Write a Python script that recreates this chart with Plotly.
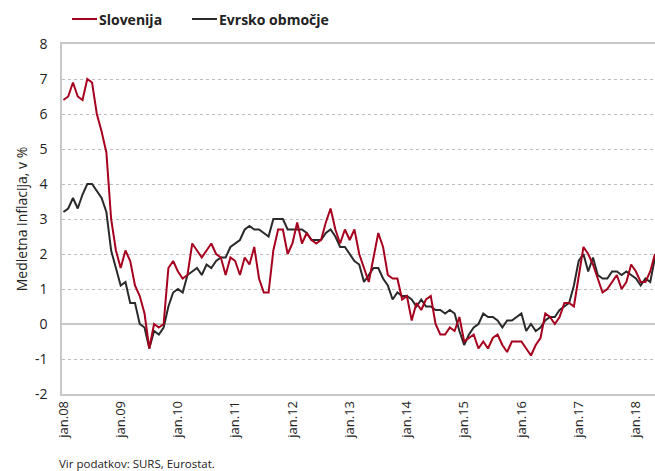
import plotly.graph_objects as go

# monthly data jan.2008 .. may.2018
slovenija = [
    6.4, 6.5, 6.9, 6.5, 6.4, 7.0, 6.9, 6.0, 5.5, 4.9, 3.0, 2.1,
    1.6, 2.1, 1.8, 1.1, 0.8, 0.3, -0.7, 0.0, -0.1, 0.0, 1.6, 1.8,
    1.5, 1.3, 1.4, 2.3, 2.1, 1.9, 2.1, 2.3, 2.0, 1.9, 1.4, 1.9,
    1.8, 1.4, 1.9, 1.7, 2.2, 1.3, 0.9, 0.9, 2.1, 2.7, 2.7, 2.0,
    2.3, 2.9, 2.3, 2.6, 2.4, 2.3, 2.4, 2.9, 3.3, 2.7, 2.3, 2.7,
    2.4, 2.7, 2.0, 1.6, 1.2, 1.9, 2.6, 2.2, 1.4, 1.3, 1.3, 0.7,
    0.8, 0.1, 0.6, 0.4, 0.7, 0.8, 0.0, -0.3, -0.3, -0.1, -0.2, 0.2,
    -0.5, -0.4, -0.3, -0.7, -0.5, -0.7, -0.4, -0.3, -0.6, -0.8, -0.5, -0.5,
    -0.5, -0.7, -0.9, -0.6, -0.4, 0.3, 0.2, 0.0, 0.2, 0.6, 0.6, 0.5,
    1.4, 2.2, 2.0, 1.7, 1.3, 0.9, 1.0, 1.2, 1.4, 1.0, 1.2, 1.7,
    1.5, 1.2, 1.2, 1.5, 2.0,
]
evrsko = [
    3.2, 3.3, 3.6, 3.3, 3.7, 4.0, 4.0, 3.8, 3.6, 3.2, 2.1, 1.6,
    1.1, 1.2, 0.6, 0.6, 0.0, -0.1, -0.7, -0.2, -0.3, -0.1, 0.5, 0.9,
    1.0, 0.9, 1.4, 1.5, 1.6, 1.4, 1.7, 1.6, 1.8, 1.9, 1.9, 2.2,
    2.3, 2.4, 2.7, 2.8, 2.7, 2.7, 2.6, 2.5, 3.0, 3.0, 3.0, 2.7,
    2.7, 2.7, 2.7, 2.6, 2.4, 2.4, 2.4, 2.6, 2.7, 2.5, 2.2, 2.2,
    2.0, 1.8, 1.7, 1.2, 1.4, 1.6, 1.6, 1.3, 1.1, 0.7, 0.9, 0.8,
    0.8, 0.7, 0.5, 0.7, 0.5, 0.5, 0.4, 0.4, 0.3, 0.4, 0.3, -0.2,
    -0.6, -0.3, -0.1, 0.0, 0.3, 0.2, 0.2, 0.1, -0.1, 0.1, 0.1, 0.2,
    0.3, -0.2, 0.0, -0.2, -0.1, 0.1, 0.2, 0.2, 0.4, 0.5, 0.6, 1.1,
    1.8, 2.0, 1.5, 1.9, 1.4, 1.3, 1.3, 1.5, 1.5, 1.4, 1.5, 1.4,
    1.3, 1.1, 1.3, 1.2, 1.9,
]
months = list(range(len(slovenija)))
tick_vals = list(range(0, 121, 12))
tick_labels = ["jan.08", "jan.09", "jan.10", "jan.11", "jan.12", "jan.13",
               "jan.14", "jan.15", "jan.16", "jan.17", "jan.18"]
y_ticks = list(range(-2, 9))
y_labels = [str(v) for v in y_ticks]  # plain hyphen minus as in the original

RED = "#A6001E"
BLACK = "#2a2a2a"
FONT = "Open Sans"

fig = go.Figure()
fig.add_trace(go.Scatter(x=months, y=evrsko, mode="lines", name="Evrsko območje",
                         line=dict(color=BLACK, width=2), showlegend=False))
fig.add_trace(go.Scatter(x=months, y=slovenija, mode="lines", name="Slovenija",
                         line=dict(color=RED, width=2), showlegend=False))

# legend drawn manually
for x0, col, txt in [(72, RED, "Slovenija"), (192, BLACK, "Evrsko območje")]:
    fig.add_shape(type="line", xref="paper", yref="paper",
                  x0=(x0 - 62) / 593, x1=(x0 + 25 - 62) / 593,
                  y0=(394 - 19) / 350, y1=(394 - 19) / 350,
                  line=dict(color=col, width=2))
    fig.add_annotation(xref="paper", yref="paper", x=(x0 + 25 - 62) / 593,
                       y=(394 - 19) / 350, text="<b>" + txt + "</b>",
                       showarrow=False, xanchor="left", yanchor="middle",
                       font=dict(family=FONT, size=14, color="#222"))

fig.add_annotation(xref="paper", yref="paper", x=(57 - 62) / 593,
                   y=-(463 - 394) / 350, text="Vir podatkov: SURS, Eurostat.",
                   showarrow=False, xanchor="left", yanchor="middle",
                   font=dict(family=FONT, size=11.5, color="#222"))

fig.update_layout(
    width=655, height=471,
    margin=dict(l=62, r=0, t=44, b=77),
    paper_bgcolor="white", plot_bgcolor="white",
    font=dict(family=FONT, size=13, color="#222"),
    xaxis=dict(range=[-0.3, 124], tickvals=tick_vals, ticktext=tick_labels,
               tickangle=-90, showgrid=False, zeroline=False,
               showline=True, linecolor="#c8c8c8", linewidth=1.5, mirror=True,
               ticks="", tickfont=dict(size=13)),
    yaxis=dict(range=[-2, 8], tickvals=y_ticks, ticktext=y_labels, showgrid=True,
               gridcolor="#bdbdbd", griddash="dot", gridwidth=1,
               zeroline=True, zerolinecolor="#c8c8c8", zerolinewidth=1.5,
               showline=True, linecolor="#c8c8c8", linewidth=1.5,
               ticks="", ticklabelstandoff=10, tickfont=dict(size=14),
               title=dict(text="Medletna inflacija, v %", standoff=4,
                          font=dict(size=14))),
)

fig.write_html("out.html", config={"displayModeBar": False},
               post_script="document.body.style.margin='0';document.body.style.padding='0';document.body.style.overflow='hidden';")
